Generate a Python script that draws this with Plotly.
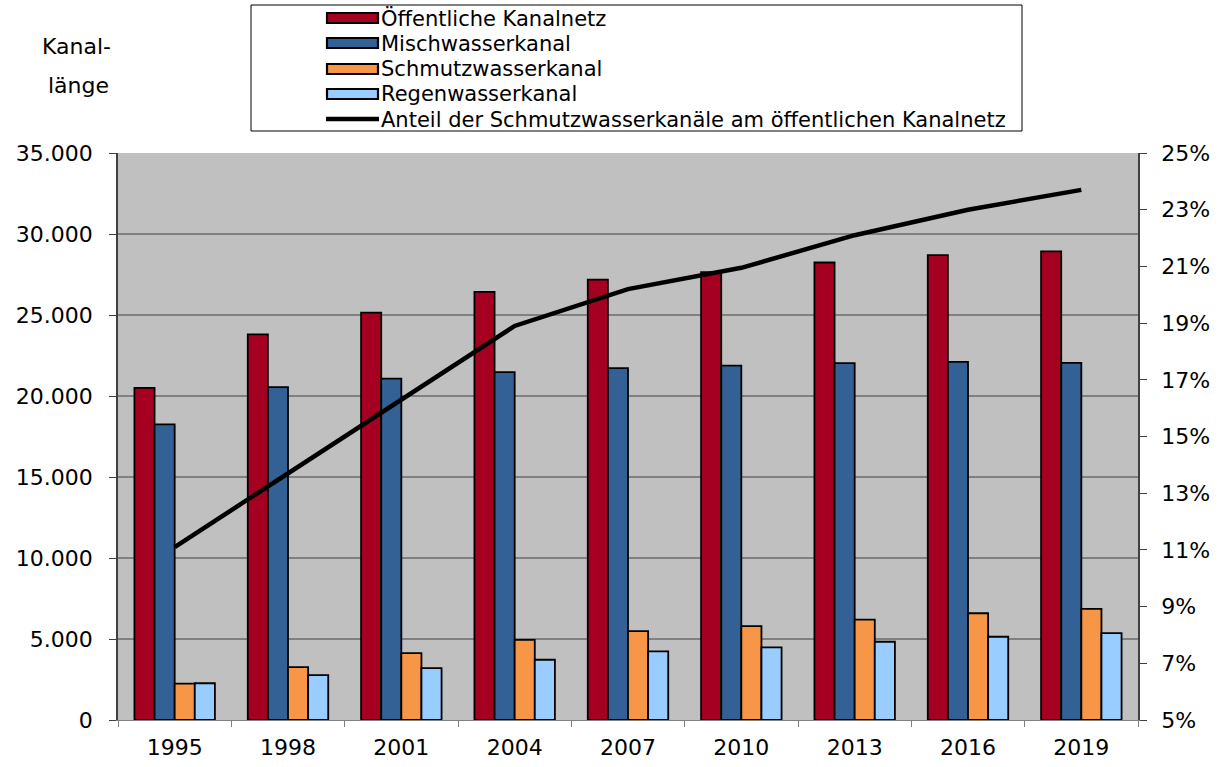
import plotly.graph_objects as go

years = ["1995", "1998", "2001", "2004", "2007", "2010", "2013", "2016", "2019"]
oeffentlich = [20500, 23800, 25150, 26430, 27180, 27650, 28240, 28690, 28930]
misch = [18250, 20550, 21070, 21470, 21720, 21880, 22030, 22110, 22050]
schmutz = [2240, 3260, 4130, 4950, 5480, 5790, 6200, 6590, 6860]
regen = [2270, 2770, 3200, 3720, 4230, 4480, 4830, 5140, 5360]
anteil = [11.1, 13.7, 16.3, 18.9, 20.2, 20.95, 22.1, 23.0, 23.7]

names = ["Öffentliche Kanalnetz", "Mischwasserkanal", "Schmutzwasserkanal",
         "Regenwasserkanal", "Anteil der Schmutzwasserkanäle am öffentlichen Kanalnetz"]
colors = ["#A50021", "#336196", "#F79646", "#99CCFF"]

FONT = "DejaVu Sans, Liberation Sans, Arial, sans-serif"
W, H = 1228, 767
L, R, T, B = 118, 1138, 153, 720

fig = go.Figure()
for vals, name, col in zip([oeffentlich, misch, schmutz, regen], names[:4], colors):
    fig.add_trace(go.Bar(x=years, y=vals, name=name, marker_color=col,
                         marker_line_color="black", marker_line_width=1.8,
                         showlegend=False))
fig.add_trace(go.Scatter(x=years, y=anteil, name=names[4], yaxis="y2", mode="lines",
                         line=dict(color="black", width=4.5), showlegend=False))

def px(x):
    return (x - L) / (R - L)

def py(y):
    return (B - y) / (B - T)

shapes = []
annotations = []
# legend box
shapes.append(dict(type="rect", xref="paper", yref="paper", x0=px(251), x1=px(1022),
                   y0=py(131), y1=py(5), line=dict(color="black", width=1),
                   fillcolor="white", layer="above"))
rows = [18, 43, 69, 94, 119]
for i, (yc, name) in enumerate(zip(rows, names)):
    if i < 4:
        shapes.append(dict(type="rect", xref="paper", yref="paper", x0=px(327), x1=px(378),
                           y0=py(yc + 5), y1=py(yc - 5), fillcolor=colors[i],
                           line=dict(color="black", width=2.2), layer="above"))
    else:
        shapes.append(dict(type="line", xref="paper", yref="paper", x0=px(326), x1=px(379),
                           y0=py(yc), y1=py(yc), line=dict(color="black", width=4.5),
                           layer="above"))
    annotations.append(dict(text=name, xref="paper", yref="paper", x=px(379), y=py(yc + 0.5),
                            xanchor="left", yanchor="middle", showarrow=False,
                            font=dict(family=FONT, size=21, color="black")))

annotations.append(dict(text="Kanal-", xref="paper", yref="paper", x=px(76),
                        y=py(47), xanchor="center", yanchor="middle", showarrow=False,
                        font=dict(family=FONT, size=22, color="black")))
annotations.append(dict(text="länge", xref="paper", yref="paper", x=px(78),
                        y=py(85), xanchor="center", yanchor="middle", showarrow=False,
                        font=dict(family=FONT, size=22, color="black")))

fig.update_layout(
    width=W, height=H,
    margin=dict(l=L, r=W - R, t=T, b=H - B, pad=0, autoexpand=False),
    paper_bgcolor="white", plot_bgcolor="#C0C0C0",
    separators=",.",
    barmode="group", bargap=0.29, bargroupgap=0,
    font=dict(family=FONT, size=22, color="black"),
    showlegend=False,
    shapes=shapes, annotations=annotations,
    xaxis=dict(type="category", ticks="outside", tickson="boundaries", ticklen=6,
               tickcolor="#808080", showline=True, linecolor="#808080", linewidth=1,
               showgrid=False, tickfont=dict(size=22), ticklabelstandoff=8,
               automargin=False),
    yaxis=dict(range=[0, 35000], dtick=5000, tickformat=",d", ticks="outside", ticklen=7,
               tickcolor="#404040", showline=True, linecolor="#404040", linewidth=1.5,
               showgrid=True, gridcolor="#808080", gridwidth=1.5, zeroline=False,
               tickfont=dict(size=22), ticklabelstandoff=12, automargin=False),
    yaxis2=dict(range=[5, 25], tick0=5, dtick=2, ticksuffix="%", overlaying="y",
                side="right", ticks="outside", ticklen=7, tickcolor="#404040",
                showline=True, linecolor="#404040", linewidth=1.5, showgrid=False,
                zeroline=False, tickfont=dict(size=22), ticklabelstandoff=10,
                automargin=False),
)

fig.write_html("out.html", post_script="document.body.style.margin='0px';",
               config={"displayModeBar": False})
